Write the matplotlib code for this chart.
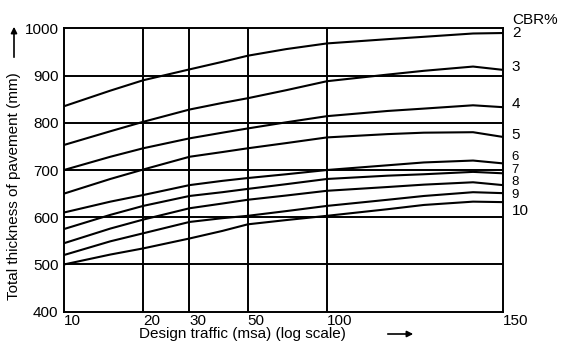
import numpy as np
import matplotlib
matplotlib.use("Agg")
import matplotlib.pyplot as plt

plt.rcParams['font.family'] = ['Liberation Sans', 'DejaVu Sans']

# design traffic (msa) where values were read
traffic = [10, 15, 20, 30, 40, 50, 70, 100, 115, 125, 140, 150]
cbr_labels = ['2', '3', '4', '5', '6', '7', '8', '9', '10']
# total pavement thickness (mm) for each CBR curve
thick_2 = [835, 868, 890, 913, 929, 942, 956, 968, 977, 982, 989, 990]
thick_3 = [753, 782, 802, 828, 842, 852, 869, 888, 902, 910, 919, 912]
thick_4 = [700, 728, 746, 767, 779, 788, 801, 814, 825, 830, 837, 833]
thick_5 = [650, 681, 701, 728, 738, 746, 757, 769, 776, 779, 780, 770]
thick_6 = [610, 633, 647, 668, 677, 683, 691, 700, 710, 716, 720, 714]
thick_7 = [575, 605, 624, 645, 653, 660, 670, 681, 688, 691, 696, 693]
thick_8 = [545, 576, 595, 619, 629, 637, 646, 656, 664, 669, 674, 668]
thick_9 = [520, 549, 566, 590, 598, 603, 613, 624, 637, 645, 653, 651]
thick_10 = [500, 521, 534, 555, 571, 585, 594, 603, 617, 626, 633, 632]
curves = [thick_2, thick_3, thick_4, thick_5, thick_6, thick_7, thick_8, thick_9, thick_10]

x_ticks = [10, 20, 30, 50, 100, 150]
y_ticks = [400, 500, 600, 700, 800, 900, 1000]

# label heights at right edge (layout only)
label_y = [990, 918, 840, 774, 728, 701, 674, 647, 613]
label_size = [11, 11, 11, 11, 9.5, 9.5, 9.5, 9.5, 11]

# the printed chart is log up to 100 then stretched to 150
knots_log = [1.0, 2.0, np.log10(150)]
knots_pos = [0.0, 263.0, 439.0]

def fwd(x):
    x = np.clip(np.asarray(x, dtype=float), 1e-6, None)
    return np.interp(np.log10(x), knots_log, knots_pos)

def inv(p):
    return 10 ** np.interp(np.asarray(p, dtype=float), knots_pos, knots_log)

fig = plt.figure(figsize=(5.64, 3.48), dpi=100)
ax = fig.add_axes([64/564, 1-311.7/348, (503-64)/564, (311.7-28.3)/348])
ax.set_xscale('function', functions=(fwd, inv))
ax.set_xlim(10, 150)
ax.set_ylim(400, 1000)

for xv in x_ticks[1:-1]:
    ax.axvline(xv, color='black', lw=1.4, zorder=1)
for yv in y_ticks[1:-1]:
    ax.axhline(yv, color='black', lw=1.4, zorder=1)

for c in curves:
    ax.plot(traffic, c, color='black', lw=1.5, zorder=2)

for lab, ly, fs in zip(cbr_labels, label_y, label_size):
    ax.text(1.02, ly, lab, transform=ax.get_yaxis_transform(), fontsize=fs,
            ha='left', va='center')
ax.text(1.02, 1.03, 'CBR%', transform=ax.transAxes, fontsize=11, ha='left', va='center')

ax.set_xticks(x_ticks)
ax.set_xticklabels([str(v) for v in x_ticks], ha='left')
ax.set_yticks(y_ticks)
ax.set_yticklabels([str(v) for v in y_ticks])
ax.minorticks_off()
ax.tick_params(axis='both', length=0, labelsize=11)
ax.tick_params(axis='x', pad=2)
ax.tick_params(axis='y', pad=4)
for s in ax.spines.values():
    s.set_linewidth(1.4)

fig.text(139/564, 1-334/348, 'Design traffic (msa) (log scale)', fontsize=11,
         ha='left', va='center')
fig.text(14/564, 1-186/348, 'Total thickness of pavement (mm)', fontsize=11,
         rotation=90, ha='center', va='center')
fig.add_artist(matplotlib.patches.FancyArrowPatch((385/564, 1-334/348), (416/564, 1-334/348),
               transform=fig.transFigure, arrowstyle='-|>', mutation_scale=9, lw=1.2, color='black'))
fig.add_artist(matplotlib.patches.FancyArrowPatch((14/564, 1-60/348), (14/564, 1-24/348),
               transform=fig.transFigure, arrowstyle='-|>', mutation_scale=9, lw=1.2, color='black'))

fig.savefig('out.png', dpi=100)
